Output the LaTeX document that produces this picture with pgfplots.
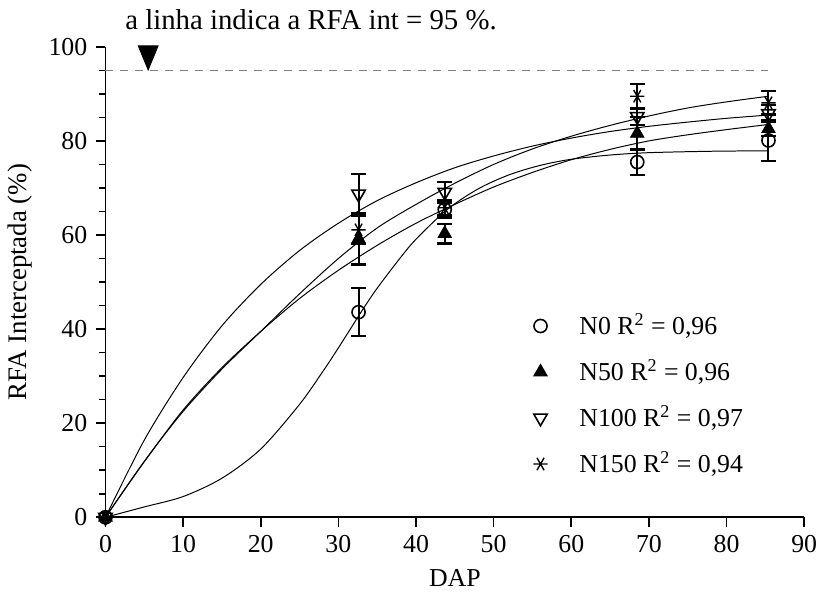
\documentclass[12pt,border={0pt 3pt 0pt 5pt}]{standalone}
\usepackage{fontspec}
\setmainfont{Liberation Serif}
\usepackage{pgfplots}
\pgfplotsset{compat=1.18}
\usepackage{pgfplotstable}

\pgfplotstableread{
x y e
0 0 0
32.6 43.6 5.1
43.7 65.4 1.7
68.5 75.5 2.8
85.4 80.1 4.4
}\datN
\pgfplotstableread{
x y e
0 0 0
32.6 59.2 5.5
43.7 60.3 2.1
68.5 81.6 3.5
85.4 82.6 1.6
}\datNL
\pgfplotstableread{
x y e
0 0 0
32.6 68.7 4.3
43.7 69.1 2.2
68.5 85.2 1.8
85.4 85.8 1.8
}\datNC
\pgfplotstableread{
x y e
0 0 0
32.6 61.1 3.0
43.7 65.8 1.5
68.5 89.5 2.6
85.4 88.1 2.5
}\datNCL

\begin{document}
\begin{tikzpicture}
\begin{axis}[
  scale only axis,
  width=352pt, height=237pt,
  xmin=0, xmax=90, ymin=0, ymax=100,
  axis x line*=bottom, axis y line*=left,
  axis line style={-, line width=0.8pt},
  xtick={0,10,...,90}, ytick={0,20,...,100},
  minor y tick num=3,
  tick align=outside,
  major tick length=5pt, minor tick length=3.3pt,
  every tick/.style={line width=0.8pt, black},
  /pgf/number format/assume math mode=true,
  ticklabel style={font=\fontsize{13}{15}\selectfont},
  xlabel={DAP}, ylabel={RFA Interceptada (\%)},
  xlabel style={font=\fontsize{13}{15}\selectfont},
  ylabel style={font=\fontsize{13.5}{16}\selectfont},
  clip=false,
  legend style={at={(axis cs:54.3,45)}, anchor=north west, draw=none, fill=none,
    font=\fontsize{13}{15}\selectfont, row sep=7pt,
    /tikz/every odd column/.append style={column sep=14pt}},
  legend cell align=left,
]
% fitted curves
\addplot[forget plot, black, line width=0.5pt, smooth] coordinates {(0,0)(5,2.2)(10,4.4)(15,8.3)(20,14.5)(25,24)(28,31)(30,36)(33,43.8)(35,48.7)(38,55.2)(40,59.1)(44,65.4)(48,69.8)(52,72.8)(56,74.8)(60,76.1)(65,77)(70,77.5)(78,77.8)(85.4,77.9)};
\addplot[forget plot, black, line width=0.5pt, smooth] coordinates {(0,0)(5,11.8)(10,22.8)(15,31.8)(20,39.5)(25,46.5)(30,52.5)(35,57.8)(40,62.5)(45,66.5)(50,70.2)(55,73.3)(60,76)(65,78.2)(70,80)(75,81.3)(80,82.4)(85.4,83.5)};
\addplot[forget plot, black, line width=0.5pt, smooth] coordinates {(0,0)(5,16.4)(10,29.7)(15,40.7)(20,49.5)(25,56.7)(30,62.5)(35,67.3)(40,71.1)(45,74.3)(50,76.8)(55,78.9)(60,80.6)(65,82.0)(70,83.1)(75,84.0)(80,84.8)(85.4,85.5)};
\addplot[forget plot, black, line width=0.5pt, smooth] coordinates {(0,0)(5,11.9)(10,22.5)(15,31.5)(20,39.5)(25,47.5)(30,55)(35,61.5)(40,66.5)(45,71)(50,75)(55,78.3)(60,81)(65,83.3)(70,85.3)(75,87)(80,88.3)(85.4,89.5)};
% reference line
\addplot[forget plot, gray, line width=0.6pt, dash pattern=on 4pt off 3.5pt] coordinates {(0,95)(85.5,95)};
\addplot[forget plot, only marks, mark=triangle*, mark size=5.8pt, mark options={yscale=-1.4, fill=black}] coordinates {(5.5,98.5)};
\node[anchor=base west, inner sep=0pt, font=\fontsize{14.5}{17}\selectfont] at (axis cs:2.5,103.6) {a linha indica a RFA int = 95 \%.};
% data
\addplot[black, only marks, mark=o, mark size=3.3pt, mark options={fill=white, line width=0.8pt},
  error bars/.cd, y dir=both, y explicit, error bar style={line width=1pt},
  error mark options={rotate=90, mark size=3.75pt, line width=1.2pt}]
  table[x=x, y=y, y error=e] {\datN};
\addlegendentry{N0 R\textsuperscript{2} = 0,96}
\addplot[black, only marks, mark=triangle*, mark size=3.9pt, mark options={fill=black}, 
  error bars/.cd, y dir=both, y explicit, error bar style={line width=1pt},
  error mark options={rotate=90, mark size=3.75pt, line width=1.2pt}]
  table[x=x, y=y, y error=e] {\datNL};
\addlegendentry{N50 R\textsuperscript{2} = 0,96}
\addplot[black, only marks, mark=triangle, mark size=3.9pt, mark options={rotate=180, fill=white, line width=0.8pt},
  error bars/.cd, y dir=both, y explicit, error bar style={line width=1pt},
  error mark options={rotate=90, mark size=3.75pt, line width=1.2pt}]
  table[x=x, y=y, y error=e] {\datNC};
\addlegendentry{N100 R\textsuperscript{2} = 0,97}
\addplot[black, only marks, mark=asterisk, mark size=3.6pt, mark options={rotate=90, line width=0.7pt},
  error bars/.cd, y dir=both, y explicit, error bar style={line width=1pt},
  error mark options={rotate=90, mark size=3.75pt, line width=1.2pt}]
  table[x=x, y=y, y error=e] {\datNCL};
\addlegendentry{N150 R\textsuperscript{2} = 0,94}
\end{axis}
\end{tikzpicture}
\end{document}
